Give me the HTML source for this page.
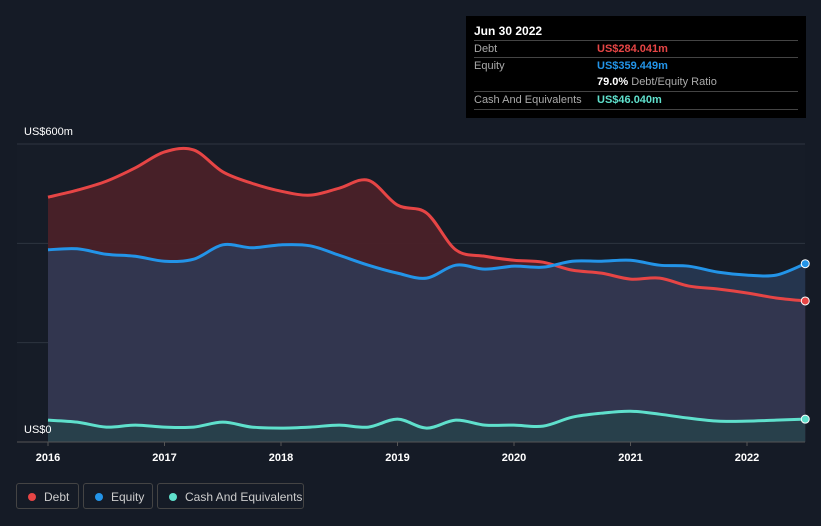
<!DOCTYPE html>
<html><head><meta charset="utf-8">
<style>
body{margin:0;background:#151b26;font-family:"Liberation Sans",sans-serif;}
#wrap{position:relative;width:821px;height:526px;overflow:hidden;background:#151b26;}
svg{position:absolute;left:0;top:0;}
.tip{position:absolute;left:466px;top:16px;width:340px;height:102px;background:#000;color:#fff;font-size:11px;}
.tip .row{position:absolute;left:8px;width:324px;border-top:1px solid #444;height:17px;line-height:17px;}
.tip .l{position:absolute;left:0;color:#aaa;}
.tip .v{position:absolute;left:123px;font-weight:bold;}
.leg{position:absolute;top:483px;height:26px;border:1px solid #444;border-radius:3px;color:#ccc;font-size:12px;line-height:26px;box-sizing:border-box;}
.leg i{position:absolute;left:11px;top:9px;width:8px;height:8px;border-radius:50%;}
.leg span{position:absolute;left:27px;}
</style></head><body>
<div id="wrap">
<svg id="c" width="821" height="526"></svg>
<div class="tip">
 <div style="position:absolute;left:8px;top:8px;font-size:12px;font-weight:bold">Jun 30 2022</div>
 <div class="row" style="top:24px"><span class="l">Debt</span><span class="v" style="color:#e64545">US$284.041m</span></div>
 <div class="row" style="top:41px"><span class="l">Equity</span><span class="v" style="color:#2394e8">US$359.449m</span></div>
 <div class="row" style="top:58px;border-top:none"><span class="v" style="color:#fff">79.0% <span style="color:#aaa;font-weight:normal">Debt/Equity Ratio</span></span></div>
 <div class="row" style="top:75px"><span class="l">Cash And Equivalents</span><span class="v" style="color:#5fe0cc">US$46.040m</span></div>
 <div class="row" style="top:93px;height:0"></div>
</div>
<div class="leg" style="left:16px;width:63px"><i style="background:#e64545"></i><span>Debt</span></div>
<div class="leg" style="left:83px;width:70px"><i style="background:#2394e8"></i><span>Equity</span></div>
<div class="leg" style="left:157px;width:147px"><i style="background:#5fe0cc"></i><span>Cash And Equivalents</span></div>
</div>
<script>
const years=[2016,2016.25,2016.5,2016.75,2017,2017.25,2017.5,2017.75,2018,2018.25,2018.5,2018.75,2019,2019.25,2019.5,2019.75,2020,2020.25,2020.5,2020.75,2021,2021.25,2021.5,2021.75,2022,2022.25,2022.5];
const debt=[493,507,525,552,584,588,544,521,505,497,511,527,477,461,387,374,366,362,346,340,328,330,314,308,300,290,284];
const equity=[387,389,378,374,364,368,397,391,397,395,376,356,340,330,356,348,354,352,364,364,366,356,354,342,336,336,359];
const cash=[44,40,30,34,30,30,40,30,28,30,34,30,46,28,44,34,34,32,50,58,62,56,48,42,42,44,46];
const yTicks=[0,600];
const xTicks=[2016,2017,2018,2019,2020,2021,2022];
const X=v=>48+(v-2016)*116.5;
const Y=v=>442-v*298/600;
const svg=document.getElementById('c');
const NS='http://www.w3.org/2000/svg';
function mk(t,a,p){const e=document.createElementNS(NS,t);for(const k in a)e.setAttribute(k,a[k]);(p||svg).appendChild(e);return e;}
function path(vals){const p=vals.map((v,i)=>[X(years[i]),Y(v)]);let d='M'+p[0][0]+','+p[0][1];
for(let i=0;i<p.length-1;i++){const p0=p[i-1]||p[i],p1=p[i],p2=p[i+1],p3=p[i+2]||p2;
d+=` C${p1[0]+(p2[0]-p0[0])/6},${p1[1]+(p2[1]-p0[1])/6} ${p2[0]-(p3[0]-p1[0])/6},${p2[1]-(p3[1]-p1[1])/6} ${p2[0]},${p2[1]}`;}return d;}
const base=` L${X(years[years.length-1])},${Y(0)} L${X(years[0])},${Y(0)} Z`;
mk('rect',{x:17,y:144,width:788,height:298,fill:'#161c27'});
[0,200,400,600].forEach(v=>{const g=mk('line',{x1:17,x2:805,y1:Y(v),y2:Y(v),stroke:'#2e3440','stroke-width':1});

});
let a;
a=mk('path',{d:path(debt)+base,fill:'#4a2128','fill-opacity':0.95});


a=mk('path',{d:path(equity)+base,fill:'#2b3d5c','fill-opacity':0.75});


a=mk('path',{d:path(cash)+base,fill:'#24454a','fill-opacity':0.7});


[[debt,'#e64545','debt-line'],[equity,'#2394e8','equity-line'],[cash,'#5fe0cc','cash-line']].forEach(([v,c,n])=>{
const l=mk('path',{d:path(v),fill:'none',stroke:c,'stroke-width':3});


const dot=mk('circle',{cx:X(years[years.length-1]),cy:Y(v[v.length-1]),r:4,fill:c,stroke:'#fff','stroke-width':1});

});
mk('line',{x1:17,x2:805,y1:442,y2:442,stroke:'#555','stroke-width':1});
xTicks.forEach(t=>{mk('line',{x1:X(t),x2:X(t),y1:442,y2:446,stroke:'#555'});
const tx=mk('text',{x:X(t),y:461,fill:'#fff','font-size':11,'font-weight':'bold','text-anchor':'middle','font-family':'Liberation Sans'});tx.textContent=t;

});
yTicks.forEach(t=>{const tx=mk('text',{x:24,y:Y(t)-9,fill:'#fff','font-size':11,'font-family':'Liberation Sans'});tx.textContent='US$'+t+(t?'m':'');

});
</script>
</body></html>
